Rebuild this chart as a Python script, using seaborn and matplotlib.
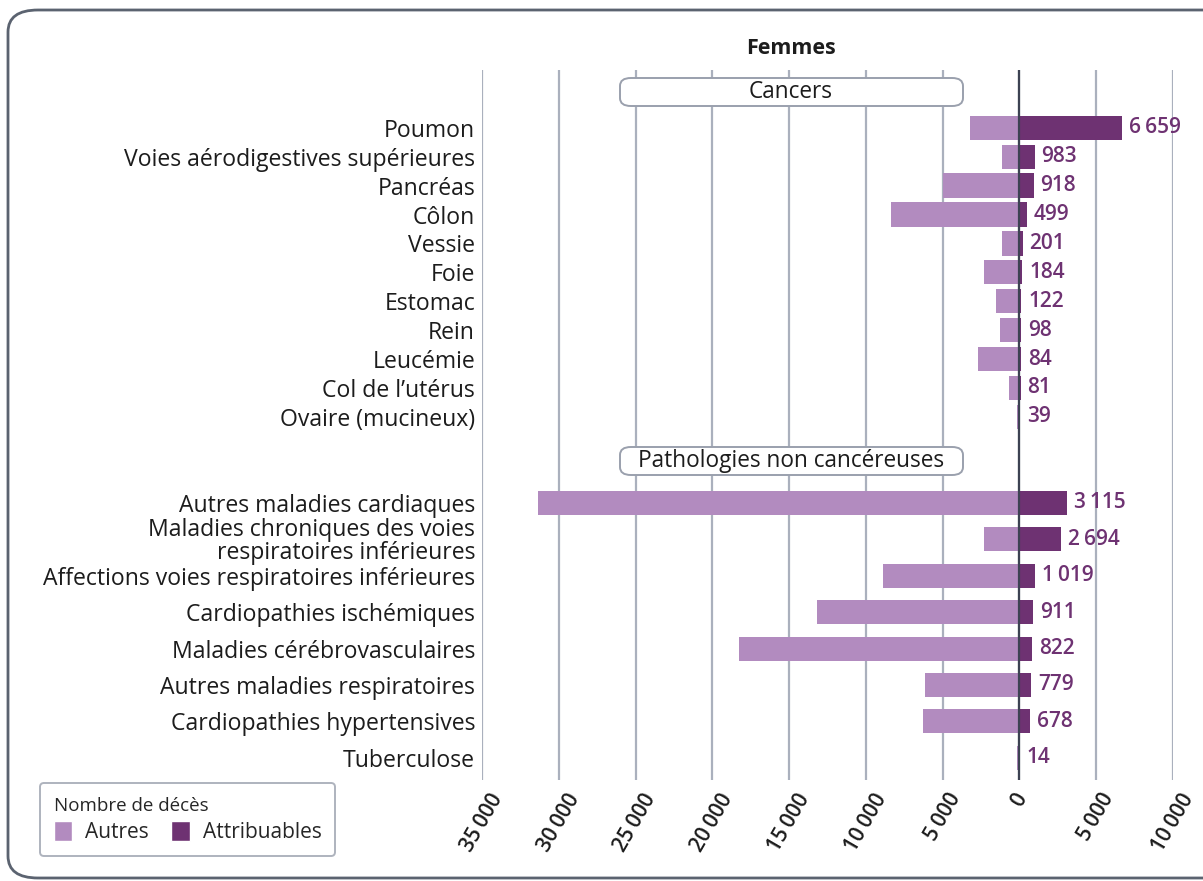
import matplotlib
matplotlib.use("Agg")
import matplotlib.pyplot as plt
from matplotlib.patches import FancyBboxPatch, Patch
import seaborn as sns
import pandas as pd

# data
cancers = ["Poumon", "Voies aérodigestives supérieures", "Pancréas", "Côlon", "Vessie",
           "Foie", "Estomac", "Rein", "Leucémie", "Col de l’utérus", "Ovaire (mucineux)"]
cancers_attrib = [6659, 983, 918, 499, 201, 184, 122, 98, 84, 81, 39]
cancers_autres = [3220, 1110, 4960, 8390, 1110, 2300, 1540, 1240, 2720, 670, 170]

patho = ["Autres maladies cardiaques",
         "Maladies chroniques des voies\nrespiratoires inférieures",
         "Affections voies respiratoires inférieures",
         "Cardiopathies ischémiques", "Maladies cérébrovasculaires",
         "Autres maladies respiratoires", "Cardiopathies hypertensives", "Tuberculose"]
patho_attrib = [3115, 2694, 1019, 911, 822, 779, 678, 14]
patho_autres = [31370, 2280, 8870, 13190, 18270, 6180, 6260, 190]

x_ticks = [-35000, -30000, -25000, -20000, -15000, -10000, -5000, 0, 5000, 10000]

c_light = "#b28bbf"
c_dark = "#6e3272"
c_grid = "#aab0bd"
c_text = "#1c1c1c"

sns.set_style("white")
plt.rcParams['font.family'] = ['Open Sans', 'DejaVu Sans']


def fmt(v):
    return f"{abs(v):,}".replace(",", "\u202f")


W, H = 1203, 881
fig = plt.figure(figsize=(W / 100, H / 100), dpi=100)

x0, x1 = 482 / W, 1173 / W
ax1 = fig.add_axes([x0, 1 - 440 / H, x1 - x0, (440 - 70) / H])
ax2 = fig.add_axes([x0, 1 - 780 / H, x1 - x0, (780 - 440) / H])

groups = [
    (ax1, cancers, cancers_autres, cancers_attrib, 0.84, (10.8, -2.0)),
    (ax2, patho, patho_autres, patho_attrib, 0.66, (7.61, -1.73)),
]

for ax, cats, autres, attrib, bw, ylim in groups:
    df = pd.DataFrame({"cat": cats, "autres": [-v for v in autres], "attrib": attrib})
    sns.barplot(data=df, x="autres", y="cat", color=c_light, saturation=1,
                width=bw, orient="h", ax=ax, linewidth=0)
    sns.barplot(data=df, x="attrib", y="cat", color=c_dark, saturation=1,
                width=bw, orient="h", ax=ax, linewidth=0)
    for i, v in enumerate(attrib):
        ax.text(v + 450, i, fmt(v), va="center", ha="left", fontsize=15,
                fontweight="semibold", color=c_dark, clip_on=False)
    ax.set_xlim(-35000, 10000)
    ax.set_ylim(*ylim)
    ax.set_xticks(x_ticks)
    ax.grid(axis="x", color=c_grid, linewidth=1.6)
    ax.grid(axis="y", visible=False)
    ax.set_axisbelow(True)
    ax.axvline(0, color="#3c4252", linewidth=1.6, zorder=3)
    for s in ax.spines.values():
        s.set_visible(False)
    ax.set_xlabel("")
    ax.set_ylabel("")
    ax.tick_params(axis="y", length=0, pad=5, labelsize=16.6, labelcolor=c_text)
    ax.tick_params(axis="x", length=0)
    for t in ax.get_yticklabels():
        t.set_linespacing(0.9)

ax1.set_xticklabels([])
ax2.set_xticklabels([fmt(v) for v in x_ticks], rotation=60, ha="center", va="top",
                    fontsize=15, fontweight="semibold", color=c_text)
ax2.tick_params(axis="x", pad=7)

# section headers
for y_top, label in [(78, "Cancers"), (447, "Pathologies non cancéreuses")]:
    box = FancyBboxPatch((620 / W, 1 - (y_top + 28) / H), 343 / W, 28 / H,
                         boxstyle="round,pad=0,rounding_size=0.009",
                         transform=fig.transFigure, facecolor="white",
                         edgecolor="#9aa0ad", linewidth=1.4, zorder=5)
    fig.patches.append(box)
    fig.text(791 / W, 1 - (y_top + 14) / H, label, ha="center", va="center",
             fontsize=16.3, color=c_text, zorder=6)

fig.text(791 / W, 1 - 49 / H, "Femmes", ha="center", va="center",
         fontsize=15.5, fontweight="bold", color=c_text)

# outer frame
frame = FancyBboxPatch((8 / W, 1 - 878 / H), 1230 / W, 868 / H,
                       boxstyle="round,pad=0,rounding_size=0.025",
                       transform=fig.transFigure, facecolor="none",
                       edgecolor="#5b6370", linewidth=2, zorder=0)
fig.patches.append(frame)

handles = [Patch(facecolor=c_light, label="Autres"),
           Patch(facecolor=c_dark, label="Attribuables")]
leg = fig.legend(handles=handles, title="Nombre de décès", ncol=2,
                 loc="upper left", bbox_to_anchor=(40 / W, 1 - 783 / H),
                 borderaxespad=0, frameon=True, fontsize=15, title_fontsize=13.5,
                 handlelength=0.9, handleheight=1.1, handletextpad=0.6,
                 columnspacing=1.1, borderpad=0.65, labelspacing=0.3,
                 fancybox=True)
leg._legend_box.align = "left"
leg.get_frame().set_edgecolor("#9aa0ad")
leg.get_frame().set_linewidth(1.4)

fig.savefig("out.png", dpi=100)
